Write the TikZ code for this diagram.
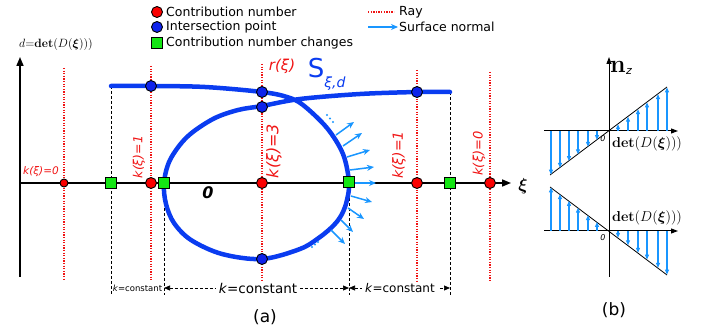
\documentclass[tikz,border=0pt]{standalone}
\usepackage{amsmath,bm}
\usepackage[no-math]{fontspec}
\setmainfont{DejaVu Sans}
\usetikzlibrary{arrows.meta,calc}
\definecolor{cred}{RGB}{240,20,20}
\definecolor{ptred}{RGB}{250,0,0}
\definecolor{cblue}{RGB}{10,60,240}
\definecolor{ptblue}{RGB}{15,35,235}
\definecolor{cgreen}{RGB}{20,230,20}
\definecolor{nblue}{RGB}{25,150,255}
\begin{document}
\begin{tikzpicture}[x=1pt,y=-1pt,
  redpt/.style={circle,draw=black,line width=0.9pt,fill=ptred,minimum size=11pt,inner sep=0pt},
  smallred/.style={redpt,minimum size=8pt},
  bluept/.style={circle,draw=black,line width=0.9pt,fill=ptblue,minimum size=11pt,inner sep=0pt},
  greensq/.style={rectangle,draw=black,line width=0.9pt,fill=cgreen,minimum size=10.5pt,inner sep=0pt},
  ray/.style={cred,line width=1.4pt,dash pattern=on 1.3pt off 1.3pt},
  guide/.style={black,line width=0.7pt,dash pattern=on 3pt off 2pt},
  axis/.style={black,line width=1.6pt,-{Triangle[length=9pt,width=7pt]}},
  thinaxis/.style={black,line width=1pt,-{Triangle[length=7pt,width=5pt]}},
  normal/.style={nblue,line width=1.5pt,-{Stealth[length=7pt,width=6pt]}},
  bnormal/.style={nblue,line width=1.1pt,-{Triangle[length=5pt,width=4pt]}},
  dimline/.style={black,line width=0.7pt,dash pattern=on 3pt off 2pt,{Triangle[length=6pt,width=5pt]}-{Triangle[length=6pt,width=5pt]}},
  surf/.style={cblue,line width=4.5pt,line cap=round},
  lbl/.style={inner sep=0pt},
  klbl/.style={cred,inner sep=0pt,rotate=90},
  legtxt/.style={inner sep=0pt,anchor=west,font=\fontsize{12.5}{13}\selectfont},
]
\useasboundingbox (0,0) rectangle (705,331);

% ---------- legend ----------
\node[redpt]  (lr) at (157,12) {};
\node[bluept] (lb) at (157,27) {};
\node[greensq](lg) at (157,43) {};
\node[legtxt] (lrt) at (166,12) {Contribution number};
\node[legtxt] (lbt) at (166,27) {Intersection point};
\node[legtxt] (lgt) at (166,43) {Contribution number changes};
\coordinate (rayA) at (368,12);
\coordinate (rayB) at (394,12);
\draw[ray] (rayA) -- (rayB);
\node[legtxt] (rayt) at (399,12) {Ray};
\coordinate (nA) at (368,27);
\coordinate (nB) at (398,27);
\draw[normal] (nA) -- (nB);
\node[legtxt] (nt) at (399,27) {Surface normal};

% ---------- rays ----------
\draw[ray] (64,68) -- (64,281);
\draw[ray] (151,66) -- (151,281);
\draw[ray] (262,64) -- (262,281);
\draw[ray] (417,70) -- (417,281);
\draw[ray] (490,72) -- (490,281);

% ---------- guides ----------
\draw[guide] (111,86) -- (111,295);
\draw[guide] (164,183) -- (164,295);
\draw[guide] (349,183) -- (349,295);
\draw[guide] (450,92) -- (450,295);

% ---------- axes ----------
\draw[axis] (20,277) -- (20,57);
\draw[axis] (20,183) -- (511,183);
\node[lbl] (xi) at (523,186) {\fontsize{19}{19}\selectfont$\bm{\xi}$};
\node[lbl] (dlab) at (56,45) {\fontsize{12.5}{12.5}\selectfont$d{=}\mathbf{det}(D(\bm{\xi})))$};

% ---------- surface ----------
\draw[surf] plot[smooth,tension=0.55] coordinates {
 (111,86) (151,86) (205,87) (262,92) (287,97) (303,105) (327,128) (343,154) (349,182)
 (347,200) (342,214) (334,225) (320,237) (300,249) (262,259) (222,254) (191,240)
 (174,223) (166,204) (164,183)
 (170,160) (187,137) (213,119) (238,110) (262,106) (300,99) (360,94) (417,92) (450,92)};

% ---------- normals ----------
\draw[normal] (336,135) -- (354,122);
\draw[normal] (343,146) -- (362,133);
\draw[normal] (347,157) -- (370,150);
\draw[normal] (350,170) -- (374,167);
\draw[normal] (352,183) -- (376,183);
\draw[normal] (351,196) -- (372,202);
\draw[normal] (348,208) -- (364,219);
\draw[normal] (341,220) -- (353,232);
\draw[normal] (331,230) -- (345,244);
\foreach \p in {(327,115),(330,118.5),(333,122),(312,247),(315,244.5),(318,242)}
  \fill[nblue] \p circle (1.1pt);

% ---------- points ----------
\node[bluept] (b1) at (151,86) {};
\node[bluept] (b2) at (262,92) {};
\node[bluept] (b3) at (262,107) {};
\node[bluept] (b4) at (417,92) {};
\node[bluept] (b5) at (262,259) {};
\node[smallred] (r0) at (64,183) {};
\node[redpt] (r1) at (151,183) {};
\node[redpt] (r2) at (262,183) {};
\node[redpt] (r3) at (417,183) {};
\node[redpt] (r4) at (490,183) {};
\node[greensq] (g1) at (111,183) {};
\node[greensq] (g2) at (164,183) {};
\node[greensq] (g3) at (349,182) {};
\node[greensq] (g4) at (450,183) {};

% ---------- labels (a) ----------
\node[lbl,cred,font=\fontsize{10.5}{10.5}\selectfont\itshape] (k0l) at (41,172) {k(ξ)=0};
\node[klbl,font=\fontsize{12.5}{12.5}\selectfont\itshape] (k1l) at (139,157) {k(ξ)=1};
\node[klbl,font=\fontsize{16}{16}\selectfont\itshape] (k3) at (274,151) {k(ξ)=3};
\node[klbl,font=\fontsize{14}{14}\selectfont\itshape] (k1r) at (399,155) {k(ξ)=1};
\node[klbl,font=\fontsize{13}{13}\selectfont\itshape] (k0r) at (479,153.5) {k(ξ)=0};
\node[lbl,cred,font=\fontsize{15}{15}\selectfont\itshape] (rxi) at (282,66) {r(ξ)};
\node[lbl,cblue,font=\fontsize{26}{26}\selectfont] (S) at (316,68) {S};
\node[lbl,cblue,font=\fontsize{14}{14}\selectfont\itshape] (Ssub) at (335,84) {ξ,d};
\node[lbl,font=\fontsize{16}{16}\selectfont\bfseries\itshape] (zero) at (208,193) {0};

% ---------- dimensions ----------
\coordinate (d1) at (164,288);
\coordinate (d2) at (349,288);
\coordinate (d3) at (450,288);
\draw[dimline] (d1) -- (d2);
\draw[dimline] (d2) -- (d3);
\node[lbl,font=\fontsize{8.5}{9}\selectfont] (kc1) at (137.5,288) {\textit{k}=constant};
\node[lbl,fill=white,inner xsep=3pt,inner ysep=1pt,font=\fontsize{13.5}{14}\selectfont] (kc2) at (258,288) {\textit{k}=constant};
\node[lbl,fill=white,inner xsep=3pt,inner ysep=1pt,font=\fontsize{12}{13}\selectfont] (kc3) at (400,288) {\textit{k}=constant};
\node[lbl,font=\fontsize{17}{17}\selectfont] (capa) at (265,317) {(a)};

% ---------- panel (b) ----------
\draw[thinaxis] (609,277) -- (609,57);
\draw[thinaxis] (544,131) -- (678,131);
\draw[thinaxis] (544,231) -- (678,231);
\draw[black,line width=0.8pt] (550,175) -- (667,87);
\draw[black,line width=0.8pt] (550,187) -- (667,275);
\foreach \x in {551,560,569,578,588,597} {
  \draw[bnormal] (\x,131) -- (\x,{131+0.752*(609-\x)});
  \draw[bnormal] (\x,231) -- (\x,{231-0.752*(609-\x)});
}
\foreach \x in {618,628,638,647,658,667} {
  \draw[bnormal] (\x,131) -- (\x,{131-0.752*(\x-609)});
  \draw[bnormal] (\x,231) -- (\x,{231+0.752*(\x-609)});
}
\node[lbl,anchor=base west] (nz) at (610,73) {\fontsize{23}{23}\selectfont$\mathbf{n}$};
\node[lbl,anchor=base west,font=\fontsize{11}{11}\selectfont\itshape] (nzs) at (nz.base east) {\raisebox{-2pt}{z}};
\node[lbl,font=\fontsize{8}{8}\selectfont\itshape] (o1) at (603,139) {0};
\node[lbl,font=\fontsize{8}{8}\selectfont\itshape] (o2) at (603,238) {0};
\node[lbl] (det1) at (647,144) {\fontsize{14.5}{14.5}\selectfont$\mathbf{det}(D(\bm{\xi})))$};
\node[lbl] (det2) at (647,218) {\fontsize{14.5}{14.5}\selectfont$\mathbf{det}(D(\bm{\xi})))$};
\node[lbl,font=\fontsize{17}{17}\selectfont] (capb) at (614,310) {(b)};
\end{tikzpicture}
\end{document}
